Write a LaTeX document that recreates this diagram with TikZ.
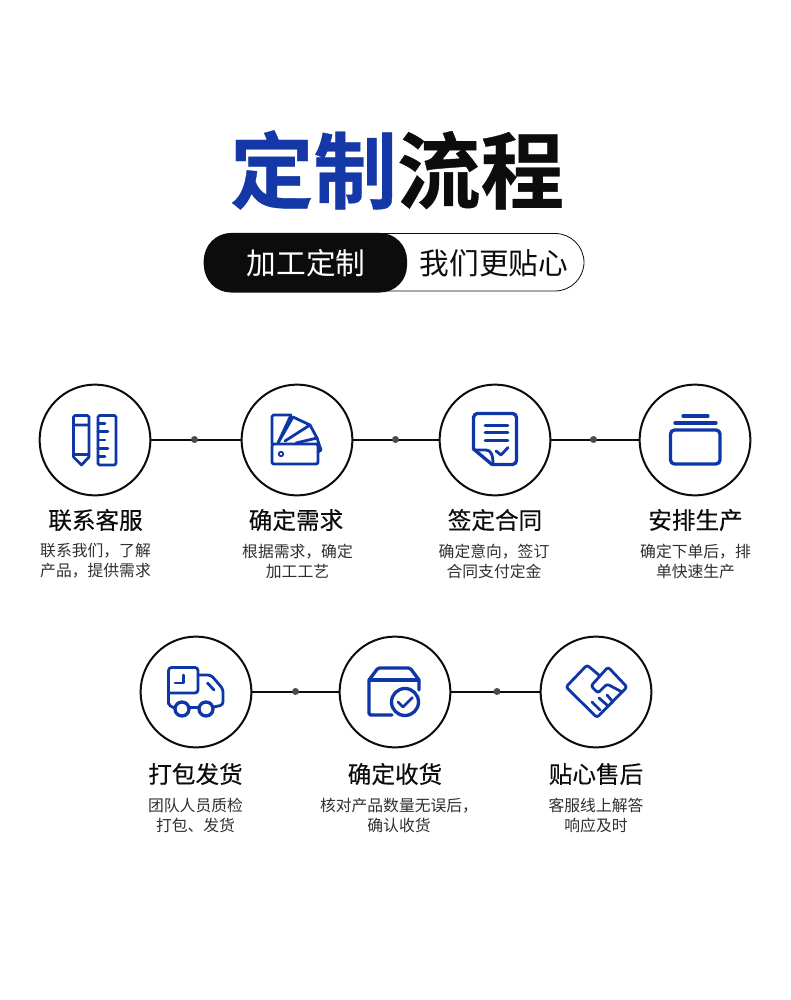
\documentclass[tikz,border=0pt]{standalone}
\usepackage{fontspec}
\setmainfont{Noto Sans CJK SC}
\newfontfamily\cjkbold[FakeBold=0.4]{Noto Sans CJK SC Bold}
\newfontfamily\cjkhead[FakeBold=0.25]{Noto Sans CJK SC}
\definecolor{tblue}{HTML}{1438A8}
\definecolor{iblue}{HTML}{0E36A6}
\definecolor{ink}{HTML}{0C0C0C}
\definecolor{dotgray}{HTML}{4A4A4A}
\tikzset{
  stepcirc/.style={circle,draw=ink,line width=2pt,minimum size=110.8pt,inner sep=0pt,fill=white},
  link/.style={draw=ink,line width=2pt},
  linkdot/.style={circle,fill=dotgray,minimum size=7pt,inner sep=0pt},
  head/.style={inner sep=0pt,font=\cjkhead\fontsize{23.6}{26}\selectfont,text=ink},
  desc/.style={inner sep=0pt,font=\fontsize{15.8}{20}\selectfont,text=ink!85!white,align=center},
  icon/.style={draw=iblue,line width=3.3pt,line join=round,line cap=round},
  iconthin/.style={draw=iblue,line width=2.8pt,line join=round,line cap=round},
}
\begin{document}
\begin{tikzpicture}[x=1pt,y=-1pt]
\useasboundingbox[fill=white] (0,0) rectangle (790,1000);
% title
\node[inner sep=0pt,font=\cjkbold\fontsize{83.5}{90}\selectfont] (title) at (397,170) {\textcolor{tblue}{定制}\textcolor{ink}{流程}};
% pill
\draw[draw=ink,line width=0.8pt,rounded corners=29pt] (204,233.5) rectangle (584,291) coordinate (pillend);
\fill[ink,rounded corners=27pt] (204,233) rectangle (407,292.5);
\node[inner sep=0pt,text=white,font=\fontsize{29.7}{32}\selectfont] (sub1) at (306,263) {加工定制};
\node[inner sep=0pt,text=ink,font=\fontsize{29.7}{32}\selectfont] (sub2) at (494,263) {我们更贴心};
% circles
\node[stepcirc] (c1) at (95,440) {};
\node[stepcirc] (c2) at (297,440) {};
\node[stepcirc] (c3) at (495,440) {};
\node[stepcirc] (c4) at (695,440) {};
\node[stepcirc] (c5) at (196,692) {};
\node[stepcirc] (c6) at (395,692) {};
\node[stepcirc] (c7) at (596,692) {};
% connectors
\draw[link] (c1) -- (c2);
\draw[link] (c2) -- (c3);
\draw[link] (c3) -- (c4);
\draw[link] (c5) -- (c6);
\draw[link] (c6) -- (c7);
\node[linkdot] (d1) at (194.5,439.5) {};
\node[linkdot] (d2) at (395.5,439.5) {};
\node[linkdot] (d3) at (593.5,439.5) {};
\node[linkdot] (d4) at (295.5,691.5) {};
\node[linkdot] (d5) at (497,691.5) {};
% icon 1: pencil + ruler
\draw[iconthin,rounded corners=1.5pt] (73.5,457) -- (73.5,415.5) -- (89,415.5) -- (89,457);
\draw[iconthin] (89,457) -- (81.5,465) -- (73.5,457) (73.5,454.5) -- (89,454.5) (73.5,425) -- (89,425);
\draw[iconthin,rounded corners=1.5pt] (98,415.5) rectangle (116,465);
\draw[iconthin] (98,423.5) -- (105,423.5) (98,431.5) -- (108,431.5) (98,440) -- (105,440) (98,448.5) -- (108,448.5) (98,456.5) -- (105,456.5);
% icon 2: swatch fan
\draw[iconthin,rounded corners=2pt] (272,444) rectangle (318,464);
\draw[draw=iblue,line width=1.8pt] (281,454) circle (2.2);
\draw[iconthin,rounded corners=1.5pt] (272,444) -- (272,415) -- (291,415);
\draw[iconthin] (291,415) -- (278,443);
\draw[iconthin] (278,443) -- (293,417) -- (310,425) -- (285,441);
\draw[iconthin] (310,425) -- (317,438) -- (296,443);
\draw[iconthin] (317,438) -- (321,450) -- (318,452);
% icon 3: document
\draw[icon,rounded corners=4pt] (473.5,449) -- (473.5,413.5) -- (516.5,413.5) -- (516.5,464.5) -- (492,464.5);
\draw[icon] (473.5,449) -- (492,464.5);
\draw[iconthin] (474,450) -- (486,450) .. controls (491,450) and (493,455) .. (493,464);
\draw[iconthin] (485,425.5) -- (508,425.5) (485,432.5) -- (508,432.5) (485,440.5) -- (508,440.5);
\draw[iconthin] (496,451) -- (501,455) -- (508,447.5);
% icon 4: tray
\draw[icon,rounded corners=4pt] (670.5,430) rectangle (720,464);
\draw[icon] (675,423) -- (716,423) (683,416) -- (708,416);
% icon 5: truck
\draw[iconthin,rounded corners=3pt] (168.5,704) -- (168.5,667.5) -- (198,667.5) -- (198,693) -- (168.5,693);
\draw[iconthin,rounded corners=3pt] (198,675) -- (211,675) -- (223,689) -- (223,705) -- (213.5,707);
\draw[iconthin,rounded corners=2pt] (168.5,700) -- (168.5,705) -- (174.5,708);
\draw[iconthin] (189.5,707.5) -- (198.5,707.5);
\draw[icon] (182,709) circle (7) (206,709) circle (7);
\draw[iconthin] (183.5,675) -- (183.5,683) -- (175,683);
\draw[iconthin] (207.5,683) -- (214,690);
% icon 6: box + check
\draw[icon,rounded corners=1.5pt] (392,715) -- (369,715) -- (369,680) -- (378,668) -- (410,668) -- (419,680) -- (419,690);
\draw[icon] (369,680) -- (419,680);
\draw[icon] (405,702) circle (13.5);
\draw[iconthin] (398,702) -- (403,707) -- (412.5,697.5);
% icon 7: handshake
\draw[iconthin,rounded corners=2.5pt] (600,676) -- (587,665) -- (566,687) -- (597,717.5) -- (627,687) -- (608,667) -- (591,686) -- (598,693) -- (607,684) -- (622,692);
\draw[iconthin] (592,702) -- (600,710) (599,698) -- (607,705) (607,695) -- (613,702);
% labels
\node[head] (h1) at (95.5,520) {联系客服};
\node[head] (h2) at (296,520) {确定需求};
\node[head] (h3) at (495,520) {签定合同};
\node[head] (h4) at (695.5,520) {安排生产};
\node[head] (h5) at (195.5,774) {打包发货};
\node[head] (h6) at (395,774) {确定收货};
\node[head] (h7) at (596,774) {贴心售后};
\node[desc] (t1) at (95.5,561) {联系我们，了解\\产品，提供需求};
\node[desc] (t2) at (297.5,561) {根据需求，确定\\加工工艺};
\node[desc] (t3) at (494,561) {确定意向，签订\\合同支付定金};
\node[desc] (t4) at (695.5,561) {确定下单后，排\\单快速生产};
\node[desc] (t5) at (195.5,815) {团队人员质检\\打包、发货};
\node[desc] (t6) at (399,815) {核对产品数量无误后，\\确认收货};
\node[desc] (t7) at (596,815) {客服线上解答\\响应及时};
\end{tikzpicture}
\end{document}
